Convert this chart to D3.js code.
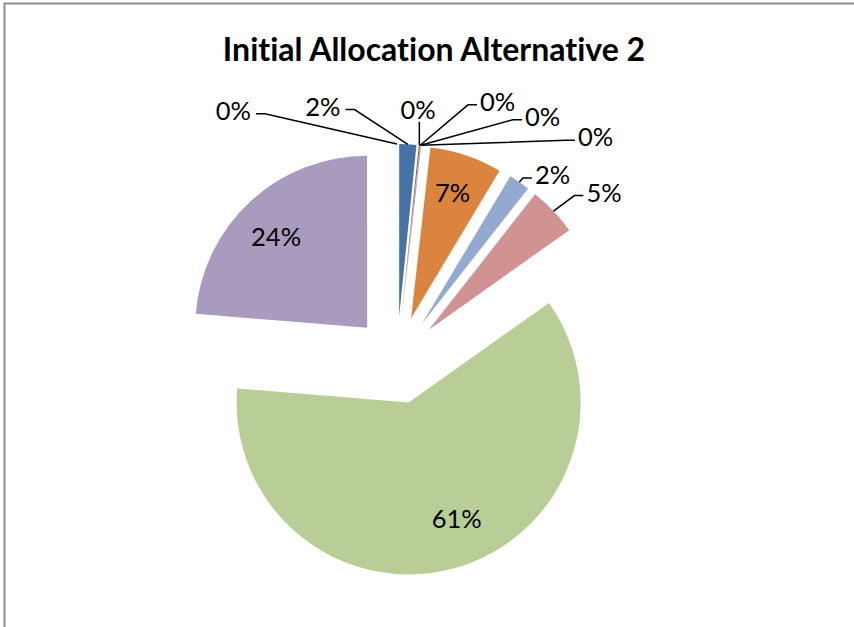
<!DOCTYPE html>
<html>
<head>
<meta charset="utf-8">
<script src="https://cdn.jsdelivr.net/npm/d3@7"></script>
<style>
  body { margin: 0; background: #fff; }
  svg text { font-family: Lato, "Open Sans", sans-serif; fill: #000; font-variant-ligatures: none; }
</style>
</head>
<body>
<div id="chart"></div>
<script>
const svgWidth = 854;
const svgHeight = 627;
const chartTitle = "Initial Allocation Alternative 2";

// one value per slice, clockwise from 12 o'clock (percent of total)
const categories = ["1", "2", "3", "4", "5", "6", "7", "8", "9", "10", "11"];
const values = [1.6, 0.1, 0.03, 0.03, 0.03, 6.8, 2.0, 4.6, 61.1, 23.7, 0.01];
const colors = ["#4572A7", "#AA4643", "#89A54E", "#71588F", "#4198AF", "#DB843D",
                "#93A9CF", "#D19392", "#B9CD96", "#A99BBD", "#92C3D3"];

// where each data label sits, polar from the pie centre (degrees, px)
const labelAngle = [343.7, 4.8, 21.3, 30.9, 41.7, 18.4, 40.05, 51.05, 159.4, 315.5, 326.7];
const labelRadius = [264, 251, 277, 283.5, 298.4, 176, 241.7, 266.2, 169.8, 172.5, 298.1];

const cx = 397, cy = 360;
const radius = 172;
const explode = 44;

const svg = d3.select("#chart")
  .append("svg")
  .attr("width", svgWidth)
  .attr("height", svgHeight);

// chart frame (only top and left edges show in the picture)
svg.append("rect")
  .attr("x", 4.5).attr("y", 3.5)
  .attr("width", svgWidth + 20).attr("height", svgHeight + 20)
  .attr("fill", "none")
  .attr("stroke", "#8c8c8c")
  .attr("stroke-width", 2);

svg.append("text")
  .attr("x", 434)
  .attr("y", 61)
  .attr("text-anchor", "middle")
  .style("font-size", "32px")
  .style("font-weight", "bold")
  .text(chartTitle);

const total = d3.sum(values);
const pieData = d3.pie().sort(null).value(d => d)(values);
const arc = d3.arc().innerRadius(0).outerRadius(radius);
const midAngle = d => (d.startAngle + d.endAngle) / 2;

const g = svg.append("g").attr("transform", "translate(" + cx + "," + cy + ")");

// exploded slices, each pushed out along its own bisector
g.selectAll("path.slice")
  .data(pieData)
  .enter()
  .append("path")
  .attr("class", "slice")
  .attr("transform", function(d) {
    const p = d3.pointRadial(midAngle(d), explode);
    return "translate(" + p[0] + "," + p[1] + ")";
  })
  .attr("d", arc)
  .attr("fill", (d, i) => colors[i]);

const labels = g.selectAll("text.lbl")
  .data(pieData)
  .enter()
  .append("text")
  .attr("class", "lbl")
  .attr("text-anchor", "middle")
  .attr("dy", "0.35em")
  .style("font-size", "25.5px")
  .attr("x", (d, i) => d3.pointRadial(labelAngle[i] * Math.PI / 180, labelRadius[i])[0])
  .attr("y", (d, i) => d3.pointRadial(labelAngle[i] * Math.PI / 180, labelRadius[i])[1])
  .text(d => Math.round(d.value / total * 100) + "%");

// leader lines for the labels that sit outside the pie
labels.each(function(d, i) {
  if (labelRadius[i] < radius + explode) return;
  const box = this.getBBox();
  const target = d3.pointRadial(midAngle(d), radius + explode);
  const midY = box.y + box.height / 2 + 4;
  let pts;
  if (target[0] >= box.x && target[0] <= box.x + box.width) {
    pts = [[target[0], box.y + box.height - 2], target];
  } else if (target[0] > box.x + box.width) {
    const sx = box.x + box.width + 5;
    pts = [[sx, midY], [sx + 9, midY], target];
  } else {
    const sx = box.x - 3;
    pts = [[sx, midY], [sx - 9, midY], target];
  }
  g.append("path")
    .attr("d", d3.line()(pts))
    .attr("fill", "none")
    .attr("stroke", "#000")
    .attr("stroke-width", 1.5);
});
</script>
</body>
</html>
